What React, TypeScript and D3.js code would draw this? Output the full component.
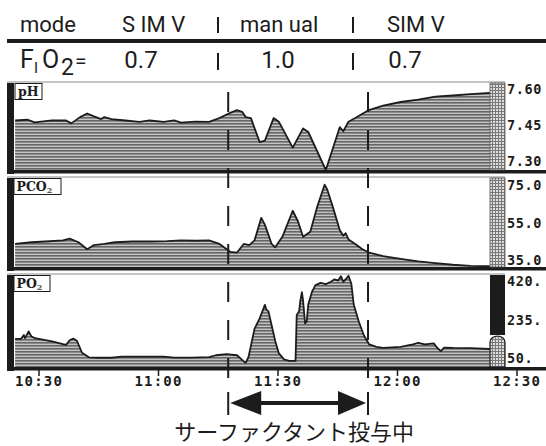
import * as d3 from "d3";

// time is minutes after 10:00
const timeTicks = [30, 60, 90, 120, 150];
const timeLabels = ["10:30", "11:00", "11:30", "12:00", "12:30"];
const modeChanges = [77.5, 112.6];

const modeLabels = ["S IM V", "man ual", "SIM V"];
const fio2Labels = ["0.7", "1.0", "0.7"];

const phTicks = [7.6, 7.45, 7.3];
const pco2Ticks = [75, 55, 35];
const po2Ticks = [420, 235, 50];

const phSeries: [number, number][] = [
  [24, 7.473], [27.2, 7.476], [28.9, 7.465], [33.3, 7.473], [36.8, 7.473], [38.1, 7.461],
  [40.3, 7.487], [42.1, 7.502], [43.8, 7.49], [45.6, 7.479], [46.4, 7.487], [48.2, 7.479],
  [51.7, 7.473], [55.2, 7.467], [57.8, 7.473], [61.3, 7.467], [63.9, 7.473], [65.7, 7.464],
  [69.2, 7.468], [72.7, 7.467], [75.3, 7.483], [78.0, 7.505], [79.7, 7.516], [81.0, 7.509],
  [81.9, 7.487], [83.2, 7.483], [85.4, 7.383], [86.7, 7.389], [88.9, 7.483], [90.2, 7.468],
  [93.7, 7.36], [96.3, 7.44], [97.6, 7.425], [102.0, 7.265], [105.5, 7.445], [106.4, 7.428],
  [107.7, 7.468], [109.4, 7.483], [112.6, 7.515], [116.4, 7.535], [120.8, 7.55], [125.2, 7.56],
  [129.5, 7.572], [133.9, 7.577], [138.3, 7.583], [143.2, 7.588],
];

const pco2Series: [number, number][] = [
  [24, 44.1], [28.1, 45.0], [31.6, 45.4], [36.0, 46.0], [37.7, 46.9], [39.9, 45.0],
  [42.1, 41.3], [43.8, 43.5], [46.4, 44.1], [49.1, 45.0], [53.4, 45.4], [57.8, 45.4],
  [62.2, 45.6], [65.7, 46.0], [69.2, 45.8], [72.7, 46.0], [75.3, 44.1], [78.0, 39.9],
  [79.7, 39.5], [81.4, 44.1], [82.8, 43.5], [84.1, 46.0], [85.8, 58.0], [86.7, 54.4],
  [88.4, 44.1], [89.3, 42.3], [91.1, 47.9], [93.7, 61.8], [95.0, 56.2], [96.3, 47.9],
  [98.1, 50.6], [99.8, 63.6], [101.7, 75.7], [102.4, 72.9], [103.8, 63.6], [105.5, 51.5],
  [106.4, 48.5], [107.0, 49.8], [107.7, 46.5], [109.4, 44.1], [111.2, 41.3], [112.9, 39.5],
  [116.4, 37.6], [120.8, 36.1], [125.2, 34.8], [129.5, 33.9], [133.9, 33.0], [138.3, 32.4],
  [143.2, 32.2],
];

const po2Series: [number, number][] = [
  [24, 147], [25.5, 147], [26.2, 165], [26.5, 150], [27.4, 183], [28.1, 158], [29.0, 150],
  [31.6, 141], [33.3, 135], [36.0, 121], [36.8, 118], [37.7, 140], [38.6, 148], [39.5, 138],
  [40.8, 80], [42.5, 58], [44.7, 56], [48.2, 56], [50.8, 61], [55.2, 61], [61.3, 61],
  [63.9, 57], [68.3, 57], [72.7, 59], [74.4, 68], [77.1, 73], [79.7, 68], [81.2, 42],
  [81.9, 32], [82.6, 60], [84.1, 195], [85.4, 245], [86.3, 290], [86.7, 310], [87.1, 287],
  [87.6, 279], [88.4, 212], [89.3, 137], [90.2, 78], [91.5, 48], [92.8, 41], [94.4, 41],
  [94.7, 262], [95.3, 279], [95.6, 329], [96.0, 371], [96.3, 329], [96.8, 221], [97.2, 229],
  [97.6, 313], [98.5, 371], [99.4, 405], [100.7, 416], [102.0, 410], [103.3, 421],
  [104.2, 433], [105.1, 427], [105.8, 448], [106.4, 421], [107.3, 440], [107.7, 450],
  [108.4, 413], [109.0, 313], [110.3, 229], [111.6, 162], [112.9, 120], [114.7, 108],
  [116.4, 103], [120.8, 108], [122.6, 115], [123.9, 120], [125.2, 128], [126.9, 120],
  [129.1, 125], [130.0, 103], [130.9, 88], [131.7, 105], [133.9, 103], [138.3, 102],
  [143.2, 98],
];

const mono = "'DejaVu Sans Mono', monospace";
const ink = "#1c1c1c";

export default function App() {
  const x = d3.scaleLinear().domain([30, 150]).range([39, 517]);
  const plotLeft = 14;
  const plotRight = 490;

  const panels = [
    {
      id: "ph", label: "pH", sub: "", top: 82, bottom: 170, boxW: 27,
      y: d3.scaleLinear().domain([7.3, 7.6]).range([162, 90]),
      data: phSeries, ticks: phTicks, fmt: (v: number) => v.toFixed(2),
    },
    {
      id: "pco2", label: "PCO", sub: "2", top: 177, bottom: 267, boxW: 47,
      y: d3.scaleLinear().domain([35, 75]).range([261, 186]),
      data: pco2Series, ticks: pco2Ticks, fmt: (v: number) => v.toFixed(1),
    },
    {
      id: "po2", label: "PO", sub: "2", top: 274, bottom: 367, boxW: 36,
      y: d3.scaleLinear().domain([50, 420]).range([359, 282]),
      data: po2Series, ticks: po2Ticks, fmt: (v: number) => `${v}.`,
    },
  ];

  const arrowY = 403;
  const a0 = x(modeChanges[0]);
  const a1 = x(modeChanges[1]);

  return (
    <svg width={546} height={446} style={{ position: "absolute", left: 0, top: 0, background: "#fff" }}>
      <defs>
        <pattern id="hatch" width="4" height="3" patternUnits="userSpaceOnUse">
          <rect width="4" height="3" fill="#c4c4c4" />
          <rect width="4" height="1.6" fill="#666" />
        </pattern>
        <pattern id="grid" width="3" height="3" patternUnits="userSpaceOnUse">
          <rect width="3" height="3" fill="#dcdcdc" />
          <rect width="1" height="3" fill="#7a7a7a" />
          <rect width="3" height="1" fill="#7a7a7a" />
        </pattern>
        {panels.map((p) => (
          <clipPath id={`clip-${p.id}`} key={p.id}>
            <rect x={plotLeft} y={p.top} width={plotRight - plotLeft} height={p.bottom - p.top} />
          </clipPath>
        ))}
      </defs>

      {/* header */}
      <g fill={ink} fontFamily="Roboto, sans-serif">
        <text x={20} y={32} fontSize={22}>mode</text>
        <text x={122} y={32} fontSize={22}>{modeLabels[0]}</text>
        <text x={240} y={32} fontSize={22}>{modeLabels[1]}</text>
        <text x={387} y={32} fontSize={22}>{modeLabels[2]}</text>
        <text x={20} y={68} fontSize={25}>F</text>
        <text x={34} y={73} fontSize={15}>I</text>
        <text x={42} y={68} fontSize={25}>O</text>
        <text x={61} y={75} fontSize={23}>2</text>
        <text x={75} y={68} fontSize={21}>=</text>
        <text x={141} y={68} fontSize={24} textAnchor="middle">{fio2Labels[0]}</text>
        <text x={278} y={68} fontSize={24} textAnchor="middle">{fio2Labels[1]}</text>
        <text x={405} y={68} fontSize={24} textAnchor="middle">{fio2Labels[2]}</text>
      </g>
      {[218, 353].map((sx) => (
        <g key={sx} stroke={ink} strokeWidth={2}>
          <line x1={sx} x2={sx} y1={17} y2={33} />
          <line x1={sx} x2={sx} y1={53} y2={70} />
        </g>
      ))}
      <rect x={7} y={39} width={539} height={4} fill={ink} />

      {/* panels */}
      {panels.map((p) => {
        const yv = (v: number) => Math.max(p.top + 1, Math.min(p.bottom, p.y(v)));
        const area = d3.area<[number, number]>().x((d) => x(d[0])).y0(p.bottom).y1((d) => yv(d[1]));
        const line = d3.line<[number, number]>().x((d) => x(d[0])).y((d) => yv(d[1]));
        return (
          <g key={p.id}>
            <line x1={7} x2={505} y1={p.top} y2={p.top} stroke="#8a8a8a" strokeWidth={1} />
            <g clipPath={`url(#clip-${p.id})`}>
              <path d={area(p.data) ?? ""} fill="url(#hatch)" />
              <path d={line(p.data) ?? ""} fill="none" stroke={ink} strokeWidth={1.8} strokeLinejoin="round" />
            </g>
            <rect x={7} y={p.top + 1} width={7} height={p.bottom - p.top + 3} fill={ink} />
            <rect x={7} y={p.bottom} width={539} height={3.5} fill={ink} />
            <rect x={p.id === "ph" ? 15 : 14} y={p.top + 1.5} width={p.boxW} height={16} fill="#fff" stroke={ink} strokeWidth={1} />
            <text x={p.id === "ph" ? 18 : 16.5} y={p.top + 14} fontFamily="'DejaVu Serif', serif" fontWeight="bold" fontSize={12.5} fill={ink}>
              {p.label}
              {p.sub && <tspan fontSize={8} dy={2} fill="#555">{p.sub}</tspan>}
            </text>
            {p.id === "po2" ? (
              <g>
                <rect x={plotRight} y={p.top + 1} width={15} height={60} fill={ink} />
                <path
                  d={`M${plotRight},${p.bottom} V${p.top + 68} A7.5,6 0 0 1 ${plotRight + 15},${p.top + 68} V${p.bottom} Z`}
                  fill="url(#grid)" stroke={ink} strokeWidth={1.2}
                />
              </g>
            ) : (
              <rect x={plotRight} y={p.top + 1} width={15} height={p.bottom - p.top - 1} fill="url(#grid)" stroke="#555" strokeWidth={0.8} />
            )}
            {p.ticks.map((t) => (
              <text key={t} x={507} y={p.y(t)} dominantBaseline="middle" fontFamily={mono} fontWeight="bold" fontSize={13.5} letterSpacing={0.6} fill={ink}>
                {p.fmt(t)}
              </text>
            ))}
          </g>
        );
      })}

      {/* mode change markers */}
      {modeChanges.map((m) => (
        <line key={m} x1={x(m)} x2={x(m)} y1={92} y2={378} stroke={ink} strokeWidth={2} strokeDasharray="20 18" />
      ))}

      {/* time axis */}
      {timeTicks.map((t, i) => (
        <g key={t}>
          <line x1={x(t)} x2={x(t)} y1={370} y2={376} stroke={ink} strokeWidth={1.5} />
          <text x={x(t)} y={386} textAnchor="middle" fontFamily={mono} fontWeight="bold" fontSize={14} letterSpacing={1.2} fill={ink}>
            {timeLabels[i]}
          </text>
        </g>
      ))}

      {/* surfactant arrow */}
      <g fill={ink} stroke={ink}>
        <line x1={a0 + 25} x2={a1 - 25} y1={arrowY} y2={arrowY} strokeWidth={4} />
        <line x1={a0} x2={a0} y1={arrowY - 11} y2={arrowY + 12} strokeWidth={2} />
        <line x1={a1} x2={a1} y1={arrowY - 11} y2={arrowY + 12} strokeWidth={2} />
        <path d={`M${a0 + 2},${arrowY} L${a0 + 33},${arrowY - 12} L${a0 + 33},${arrowY + 12} Z`} stroke="none" />
        <path d={`M${a1 - 2},${arrowY} L${a1 - 30},${arrowY - 12} L${a1 - 30},${arrowY + 12} Z`} stroke="none" />
      </g>
      <text x={(a0 + a1) / 2 - 4} y={440} textAnchor="middle" fontFamily="'Noto Sans CJK JP', sans-serif" fontSize={22} fill={ink}>
        サーファクタント投与中
      </text>
    </svg>
  );
}
